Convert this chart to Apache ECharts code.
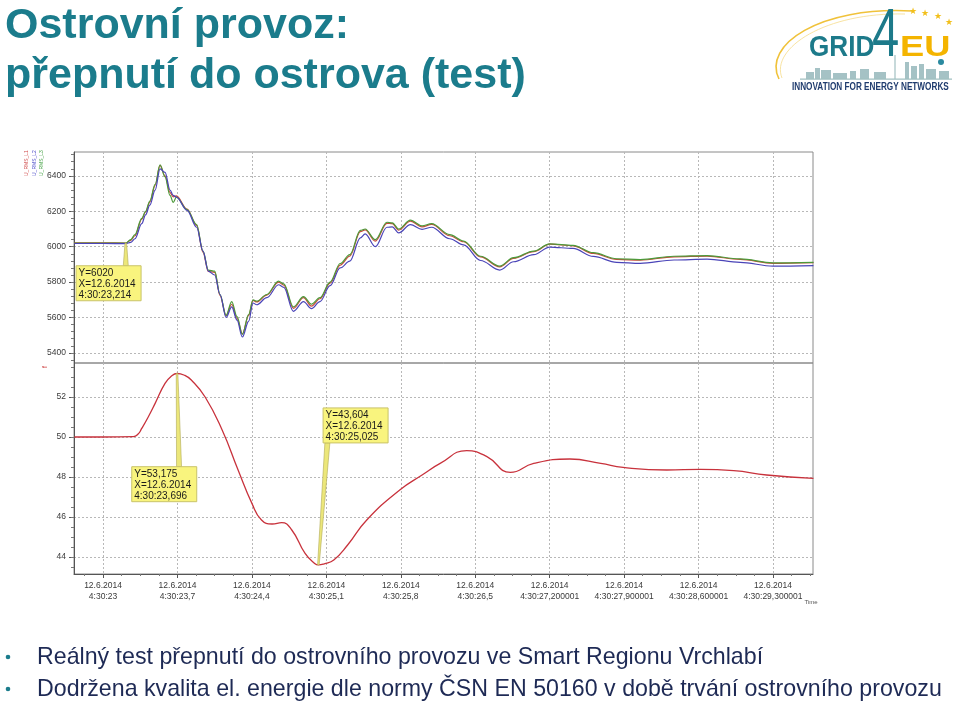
<!DOCTYPE html>
<html><head><meta charset="utf-8">
<script src="https://cdn.jsdelivr.net/npm/echarts@6/dist/echarts.min.js"></script>
<style>html,body{margin:0;padding:0;background:#fff}#c{width:959px;height:703px}</style>
</head><body><div id="c"></div>
<script>
// ---- data (time in seconds after 4:30:00, 12.6.2014) ----
const uTimes = [22.73, 23.0, 23.214, 23.26, 23.30, 23.364, 23.40, 23.44, 23.49, 23.536, 23.583, 23.63, 23.66, 23.69, 23.79, 23.88, 23.94, 23.99, 24.05, 24.10, 24.157, 24.21, 24.26, 24.31, 24.37, 24.41, 24.445, 24.54, 24.65, 24.70, 24.79, 24.885, 24.96, 25.04, 25.135, 25.23, 25.32, 25.42, 25.465, 25.56, 25.67, 25.72, 25.78, 25.89, 26.0, 26.09, 26.26, 26.39, 26.55, 26.73, 26.86, 27.05, 27.2, 27.42, 27.61, 27.83, 28.05, 28.37, 28.68, 28.99, 29.3, 29.68];
const uL1 = [6022, 6022, 6021, 6036, 6062, 6155, 6196, 6252, 6347, 6460, 6400, 6306, 6282, 6287, 6212, 6120, 5968, 5860, 5855, 5724, 5610, 5675, 5595, 5508, 5612, 5697, 5688, 5727, 5800, 5783, 5652, 5712, 5664, 5706, 5794, 5896, 5947, 6085, 6095, 6032, 6132, 6130, 6094, 6144, 6112, 6126, 6062, 6028, 5942, 5886, 5934, 5972, 6014, 6005, 5962, 5928, 5924, 5943, 5947, 5928, 5906, 5910];
const uL2 = [6018, 6018, 6017, 6025, 6045, 6130, 6180, 6235, 6320, 6440, 6420, 6320, 6290, 6280, 6205, 6110, 5975, 5862, 5840, 5730, 5600, 5660, 5585, 5490, 5580, 5682, 5672, 5712, 5785, 5770, 5635, 5690, 5650, 5690, 5780, 5880, 5918, 6050, 6072, 6000, 6110, 6112, 6078, 6125, 6098, 6110, 6045, 6010, 5922, 5868, 5915, 5955, 5998, 5990, 5945, 5912, 5906, 5925, 5930, 5912, 5890, 5893];
const uL3 = [6020, 6020, 6020, 6040, 6068, 6160, 6200, 6258, 6352, 6462, 6395, 6290, 6250, 6280, 6210, 6125, 5975, 5868, 5862, 5730, 5612, 5690, 5605, 5505, 5618, 5700, 5692, 5730, 5806, 5790, 5660, 5718, 5675, 5712, 5800, 5905, 5955, 6092, 6100, 6040, 6138, 6135, 6100, 6150, 6118, 6130, 6068, 6032, 5946, 5890, 5938, 5975, 6016, 6008, 5966, 5932, 5927, 5946, 5950, 5931, 5909, 5912];
const fTimes = [22.73, 23.0, 23.285, 23.33, 23.364, 23.42, 23.49, 23.583, 23.65, 23.696, 23.76, 23.83, 23.96, 24.12, 24.27, 24.40, 24.49, 24.59, 24.68, 24.775, 24.9, 24.99, 25.025, 25.08, 25.17, 25.3, 25.48, 25.79, 26.0, 26.17, 26.42, 26.61, 26.83, 27.05, 27.39, 27.68, 27.89, 28.30, 28.62, 28.93, 29.24, 29.68];
const fVals = [50.0, 50.0, 50.02, 50.15, 50.43, 50.95, 51.68, 52.68, 53.08, 53.175, 53.1, 52.85, 52.0, 50.35, 48.35, 46.68, 45.85, 45.65, 45.72, 45.35, 44.18, 43.68, 43.604, 43.66, 43.85, 44.6, 45.85, 47.35, 48.1, 48.68, 49.32, 49.02, 48.23, 48.68, 48.9, 48.68, 48.48, 48.35, 48.38, 48.32, 48.1, 47.93];
const xTickValues = [23, 23.7, 24.4, 25.1, 25.8, 26.5, 27.2, 27.9, 28.6, 29.3];
const xTickLabels = ['4:30:23', '4:30:23,7', '4:30:24,4', '4:30:25,1', '4:30:25,8', '4:30:26,5', '4:30:27,200001', '4:30:27,900001', '4:30:28,600001', '4:30:29,300001'];
const xDate = '12.6.2014';
const uTicks = [5400, 5600, 5800, 6000, 6200, 6400];
const fTicks = [44, 46, 48, 50, 52];
const seriesNames = ['U_RMS_L1', 'U_RMS_L2', 'U_RMS_L3'];
const annotations = [
  {series: 0, t: 23.214, v: 6020, text: 'Y=6020\nX=12.6.2014\n4:30:23,214'},
  {series: 3, t: 25.025, v: 43.604, text: 'Y=43,604\nX=12.6.2014\n4:30:25,025'},
  {series: 3, t: 23.696, v: 53.175, text: 'Y=53,175\nX=12.6.2014\n4:30:23,696'}
];
const titleLines = ['Ostrovní provoz:', 'přepnutí do ostrova (test)'];
const bullets = ['Reálný test přepnutí do ostrovního provozu ve Smart Regionu Vrchlabí',
  'Dodržena kvalita el. energie dle normy ČSN EN 50160 v době trvání ostrovního provozu'];

// ---- layout / styles ----
const XMIN = 22.727, XMAX = 29.676;
const UMIN = 5343, UMAX = 6535;
const FMIN = 43.15, FMAX = 53.7;
const FONT = 'Liberation Sans, Arial, sans-serif';
const zip = (a, b) => a.map((x, i) => [x, b[i]]);
const xMinor = [];
xTickValues.concat([xTickValues[xTickValues.length - 1] + 0.7]).forEach(m => {
  for (let j = 1; j <= 3; j++) { const v = +(m - 0.175 * j).toFixed(4); if (v > XMIN && v < XMAX) xMinor.push(v); }
});
const uMinor = []; for (let v = 5360; v <= 6520; v += 40) uMinor.push(v);
const fMinor = []; for (let v = 43.5; v <= 53.5; v += 0.5) fMinor.push(+v.toFixed(1));

const dotted = {show: true, lineStyle: {color: '#b8b8b8', type: [2, 2], width: 1}};
const lblStyle = {color: '#3a3a3a', fontSize: 8.5, fontFamily: FONT};
const plain = v => String(v);

const chart = echarts.init(document.getElementById('c'), null, {renderer: 'canvas'});
const option = {
  animation: false,
  backgroundColor: '#ffffff',
  grid: [
    {left: 74, top: 152, width: 739, height: 211, show: true, borderColor: '#8a8a8a', borderWidth: 1},
    {left: 74, top: 363, width: 739, height: 211, show: true, borderColor: '#8a8a8a', borderWidth: 1}
  ],
  xAxis: [
    {gridIndex: 0, type: 'value', position: 'bottom', min: XMIN, max: XMAX,
      axisLine: {show: false}, axisLabel: {show: false},
      axisTick: {show: false, customValues: xTickValues}, splitLine: dotted},
    {gridIndex: 1, type: 'value', position: 'bottom', min: XMIN, max: XMAX,
      axisLine: {show: true, lineStyle: {color: '#555', width: 1}},
      axisTick: {show: true, length: 4, customValues: xTickValues, lineStyle: {color: '#555'}},
      axisLabel: Object.assign({customValues: xTickValues, margin: 6, lineHeight: 11,
        formatter: v => { const i = xTickValues.findIndex(x => Math.abs(x - v) < 1e-6); return xDate + '\n' + (i >= 0 ? xTickLabels[i] : ''); }}, lblStyle),
      splitLine: dotted},
    {gridIndex: 1, type: 'value', position: 'bottom', offset: 0, min: XMIN, max: XMAX,
      axisLine: {show: false}, axisLabel: {show: false}, splitLine: {show: false},
      axisTick: {show: true, length: 2, customValues: xMinor, lineStyle: {color: '#777'}}}
  ],
  yAxis: [
    {gridIndex: 0, type: 'value', position: 'left', min: UMIN, max: UMAX,
      axisLine: {show: true, lineStyle: {color: '#555'}},
      axisTick: {show: true, length: 5, customValues: uTicks, lineStyle: {color: '#555'}},
      axisLabel: Object.assign({customValues: uTicks, margin: 8, formatter: plain}, lblStyle),
      splitLine: dotted},
    {gridIndex: 1, type: 'value', position: 'left', min: FMIN, max: FMAX,
      axisLine: {show: true, lineStyle: {color: '#555'}},
      axisTick: {show: true, length: 5, customValues: fTicks, lineStyle: {color: '#555'}},
      axisLabel: Object.assign({customValues: fTicks, margin: 8, formatter: plain}, lblStyle),
      splitLine: dotted},
    {gridIndex: 0, type: 'value', position: 'left', offset: 0, min: UMIN, max: UMAX,
      axisLine: {show: false}, axisLabel: {show: false}, splitLine: {show: false},
      axisTick: {show: true, length: 3, customValues: uMinor, lineStyle: {color: '#777'}}},
    {gridIndex: 1, type: 'value', position: 'left', offset: 0, min: FMIN, max: FMAX,
      axisLine: {show: false}, axisLabel: {show: false}, splitLine: {show: false},
      axisTick: {show: true, length: 3, customValues: fMinor, lineStyle: {color: '#777'}}}
  ],
  series: [
    {name: seriesNames[0], type: 'line', xAxisIndex: 0, yAxisIndex: 0, data: zip(uTimes, uL1), showSymbol: false, smooth: 0.35, smoothMonotone: 'x', lineStyle: {color: '#c84a3c', width: 1.2}, z: 3},
    {name: seriesNames[2], type: 'line', xAxisIndex: 0, yAxisIndex: 0, data: zip(uTimes, uL3), showSymbol: false, smooth: 0.35, smoothMonotone: 'x', lineStyle: {color: '#4c9a3a', width: 1.2}, z: 4},
    {name: seriesNames[1], type: 'line', xAxisIndex: 0, yAxisIndex: 0, data: zip(uTimes, uL2), showSymbol: false, smooth: 0.35, smoothMonotone: 'x', lineStyle: {color: '#4a44b8', width: 1.2}, z: 5},
    {name: 'f', type: 'line', xAxisIndex: 1, yAxisIndex: 1, data: zip(fTimes, fVals), showSymbol: false, smooth: 0.5, lineStyle: {color: '#c8323c', width: 1.3}, z: 3}
  ]
};
chart.setOption(option);

// ---- graphics ----
const TEAL = '#1b7c8c';
const g = [];
const txt = (x, y, text, fill, font, extra) => Object.assign({type: 'text', x: x, y: y, z: 10,
  style: {text: text, fill: fill, font: font, align: 'left', verticalAlign: 'top'}}, extra || {});
// title
titleLines.forEach((t, i) => g.push(txt(5, 4.5 + i * 50, t, TEAL, 'bold 43px ' + FONT)));
// bullets
bullets.forEach((t, i) => {
  g.push({type: 'circle', shape: {cx: 8, cy: 657 + i * 32, r: 2.3}, style: {fill: TEAL}, z: 10});
  g.push(txt(37, 646 + i * 32, t, '#1e2a55', '23.2px ' + FONT));
});
// legend labels (rotated)
const legCols = ['#d04a4a', '#4a4ac8', '#3f9f3f'];
seriesNames.forEach((n, i) => g.push({type: 'text', x: 27 + i * 7.3, y: 176, rotation: Math.PI / 2, z: 10,
  style: {text: n, fill: legCols[i], font: '5px ' + FONT, align: 'left', verticalAlign: 'middle'}}));
g.push({type: 'text', x: 45, y: 368, rotation: Math.PI / 2, z: 10,
  style: {text: 'f', fill: '#d04a4a', font: '7px ' + FONT, align: 'left', verticalAlign: 'middle'}});
g.push({type: 'text', x: 811, y: 602, z: 10, style: {text: 'Time', fill: '#555', font: '6px ' + FONT, align: 'center', verticalAlign: 'middle'}});

// annotations
const boxOff = [{dx: -49.7, dy: 22.6, cx: 0}, {dx: 4.7, dy: -157, cx: 9}, {dx: -45.3, dy: 93.2, cx: 2}];
annotations.forEach((a, i) => {
  const p = chart.convertToPixel({seriesIndex: a.series}, [a.t, a.v]);
  const o = boxOff[i];
  const bx = p[0] + o.dx, by = p[1] + o.dy, bw = 65, bh = 35;
  const edgeY = o.dy > 0 ? by : by + bh;
  const ex = p[0] + o.cx;
  g.push({type: 'polygon', z: 11, shape: {points: [[p[0] - 0.8, p[1]], [p[0] + 0.8, p[1]], [ex + 2.5, edgeY], [ex - 2.5, edgeY]]},
    style: {fill: '#ece77a', stroke: '#b0aa55', lineWidth: 0.6}});
  g.push({type: 'rect', z: 12, shape: {x: bx, y: by, width: bw, height: bh}, style: {fill: '#f9f47e', stroke: '#c9c36a', lineWidth: 1}});
  g.push({type: 'text', z: 13, x: bx + 2.5, y: by + 1.5, style: {text: a.text, fill: '#1a1a1a', font: '10px ' + FONT, lineHeight: 11.3, align: 'left', verticalAlign: 'top'}});
});

// GRID4EU logo
g.push({type: 'bezierCurve', z: 10, shape: {x1: 779, y1: 79, cpx1: 762, cpy1: 45, cpx2: 820, cpy2: 6, x2: 912, y2: 11}, style: {fill: null, stroke: '#f0c23a', lineWidth: 1.6}});
g.push({type: 'bezierCurve', z: 10, shape: {x1: 782, y1: 78, cpx1: 770, cpy1: 48, cpx2: 826, cpy2: 12, x2: 905, y2: 14}, style: {fill: null, stroke: '#f6dc8a', lineWidth: 0.8}});
[[913, 12], [925, 14], [938, 17], [949, 23]].forEach(s => g.push({type: 'text', z: 10, x: s[0], y: s[1],
  style: {text: '★', fill: '#f2bf1a', font: '9px DejaVu Sans', align: 'center', verticalAlign: 'middle'}}));
g.push(txt(809, 33, 'GRID', '#1d7a8a', 'bold 29px ' + FONT, {scaleX: 0.9}));
g.push(txt(872, 3, '4', '#1d7a8a', '68px ' + FONT, {scaleX: 0.72}));
g.push(txt(900, 33, 'EU', '#f4b400', 'bold 29px ' + FONT, {scaleX: 1.25}));
// skyline silhouette
[[806, 72, 8, 7], [815, 68, 5, 11], [821, 70, 10, 9], [833, 73, 14, 6], [850, 71, 6, 8], [860, 69, 9, 10], [874, 72, 12, 7], [905, 62, 4, 17], [911, 66, 6, 13], [919, 64, 5, 15], [926, 69, 10, 10], [939, 71, 10, 8]].forEach(r =>
  g.push({type: 'rect', z: 9, shape: {x: r[0], y: r[1], width: r[2], height: r[3]}, style: {fill: '#8fb3b6', opacity: 0.8}}));
g.push({type: 'line', z: 9, shape: {x1: 895, y1: 79, x2: 895, y2: 55}, style: {stroke: '#8fb3b6', lineWidth: 1}});
g.push({type: 'rect', z: 9, shape: {x: 800, y: 78.5, width: 152, height: 1.2}, style: {fill: '#9fbfc0'}});
g.push({type: 'circle', z: 10, shape: {cx: 941, cy: 62, r: 3}, style: {fill: '#2a8aa0'}});
g.push(txt(792, 81, 'INNOVATION FOR ENERGY NETWORKS', '#1f3b6e', 'bold 11px ' + FONT, {scaleX: 0.745}));

chart.setOption({graphic: g});
</script></body></html>
